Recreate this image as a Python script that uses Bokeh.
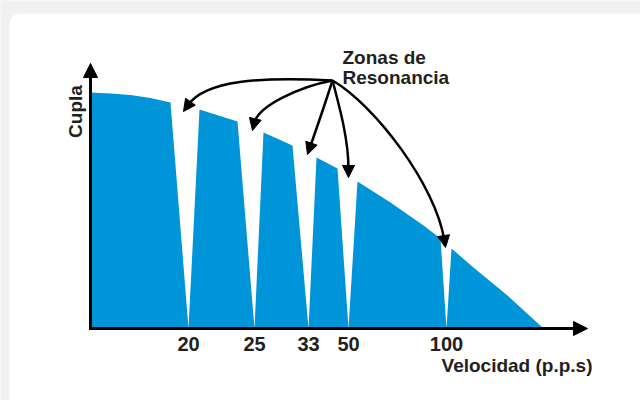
import math
from bokeh.plotting import figure
from bokeh.models import Arrow, NormalHead, Label, LinearAxis, FixedTicker
from bokeh.embed import file_html
from bokeh.resources import INLINE

# ---- data (schematic velocity-axis units, torque units) ----
resonance_pos = [98, 164, 218, 258, 356]          # dips (resonance zones) on the velocity axis
resonance_labels = ["20", "25", "33", "50", "100"]

# torque envelope pieces between the resonance dips
seg_speed = [
    [0, 20, 40, 60, 80],
    [109, 147],
    [173, 202],
    [226, 247],
    [267, 300, 333, 350],
    [361, 383, 417, 453],
]
seg_torque = [
    [236, 235, 233.5, 230.5, 226],
    [219, 207],
    [196, 183],
    [171, 160],
    [147, 126, 103, 90],
    [80, 61, 33, 0],
]

axis_x_end = 497
axis_y_end = 265

TXT = "#231f20"
BLUE = "#0095d9"
FONT = "Liberation Sans"
FS = "19px"
SHADOW = "#f1f1f1"

p = figure(width=640, height=400, x_range=(-90, 550), y_range=(-72, 328),
           x_axis_type=None, y_axis_type=None, toolbar_location=None,
           output_backend="svg", min_border=0)
p.outline_line_color = None
p.background_fill_color = "white"
p.border_fill_color = "white"

# grey frame bands behind the card (top and left), then the white rounded card
p.quad(left=-95, right=600, top=340, bottom=312, fill_color=SHADOW, line_color=None)
p.quad(left=-95, right=-78, top=340, bottom=-120, fill_color=SHADOW, line_color=None)
p.quad(left=-81, right=700, top=315, bottom=-200, border_radius=11,
       fill_color="white", line_color=None)

# torque envelope with resonance dips
poly_x, poly_y = [], []
for i, (sx, st) in enumerate(zip(seg_speed, seg_torque)):
    poly_x += sx
    poly_y += st
    if i < len(resonance_pos):
        poly_x.append(resonance_pos[i])
        poly_y.append(0)
poly_x.append(0)
poly_y.append(0)
p.patch(poly_x, poly_y, fill_color=BLUE, line_color=None)

# axes arrows
p.add_layout(Arrow(end=NormalHead(size=14, fill_color="black", line_color="black"),
                   x_start=-1.5, y_start=0, x_end=axis_x_end, y_end=0,
                   line_width=3, line_color="black"))
p.add_layout(Arrow(end=NormalHead(size=14, fill_color="black", line_color="black"),
                   x_start=0, y_start=-1.5, x_end=0, y_end=axis_y_end,
                   line_width=3, line_color="black"))

# tick labels through an axis fixed at torque 0
xa = LinearAxis(fixed_location=0)
xa.ticker = FixedTicker(ticks=resonance_pos)
xa.major_label_overrides = {pos: lab for pos, lab in zip(resonance_pos, resonance_labels)}
xa.axis_line_color = None
xa.major_tick_line_color = None
xa.minor_tick_line_color = None
xa.major_tick_out = 0
xa.major_tick_in = 0
xa.major_label_standoff = 8
xa.major_label_text_font = FONT
xa.major_label_text_font_style = "bold"
xa.major_label_text_font_size = "20px"
xa.major_label_text_color = TXT
p.add_layout(xa, "below")

# annotation arrows from "Zonas de Resonancia"
origin = (242, 248)
left_end_torque = [seg_torque[i][-1] for i in range(len(resonance_pos))]
tip_dx = [-5, -2, -1, 0, -1]
ctrl = [
    ((170, 252), (115, 248)),
    ((210, 242), (168, 223)),
    ((234, 223), (225, 197)),
    ((250, 218), (258, 188)),
    ((285, 223), (345, 143)),
]
for i, pos in enumerate(resonance_pos):
    tx = pos + tip_dx[i]
    ty = left_end_torque[i] - 9
    (c1x, c1y), (c2x, c2y) = ctrl[i]
    dx, dy = tx - c2x, ty - c2y
    L = math.hypot(dx, dy)
    ux, uy = dx / L, dy / L
    bx, by = tx - ux * 8, ty - uy * 8
    p.bezier(x0=[origin[0]], y0=[origin[1]], x1=[bx], y1=[by],
             cx0=[c1x], cy0=[c1y], cx1=[c2x], cy1=[c2y],
             line_color="black", line_width=2.5)
    p.add_layout(Arrow(end=NormalHead(size=12, fill_color="black", line_color="black"),
                       x_start=bx - ux * 2, y_start=by - uy * 2, x_end=tx, y_end=ty,
                       line_width=2.5, line_color="black"))

# texts
for txt, y in (("Zonas de", 271), ("Resonancia", 251)):
    p.add_layout(Label(x=252, y=y, text=txt, text_font=FONT, text_font_style="bold",
                       text_font_size=FS, text_color=TXT,
                       text_align="left", text_baseline="middle"))
p.add_layout(Label(x=502, y=-37, text="Velocidad (p.p.s)", text_font=FONT,
                   text_font_style="bold", text_font_size=FS, text_color=TXT,
                   text_align="right", text_baseline="middle"))
p.add_layout(Label(x=-15, y=217, text="Cupla", angle=math.pi / 2, text_font=FONT,
                   text_font_style="bold", text_font_size=FS, text_color=TXT,
                   text_align="center", text_baseline="middle"))

open("out.html", "w").write(file_html(p, INLINE))
